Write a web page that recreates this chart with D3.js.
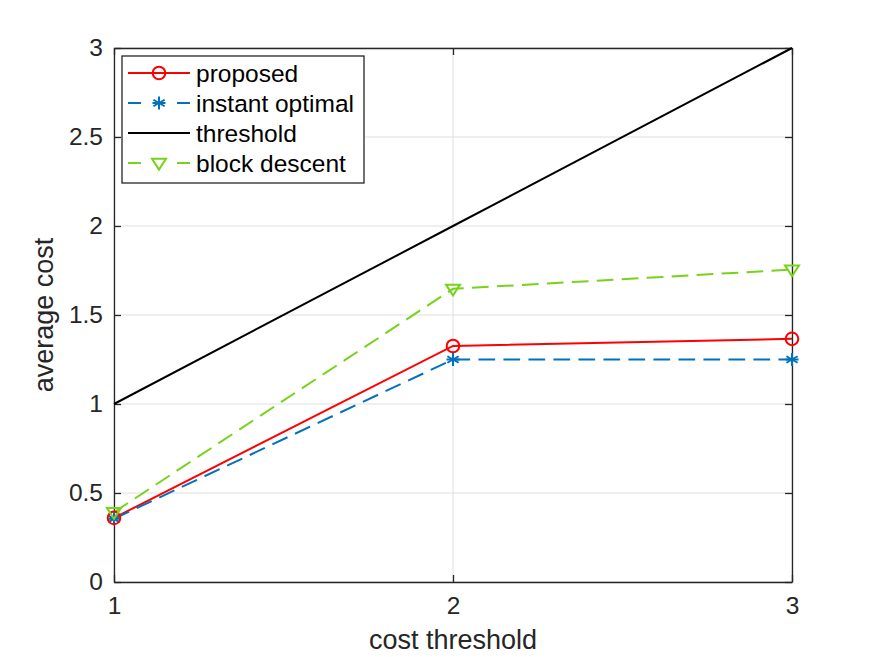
<!DOCTYPE html>
<html><head><meta charset="utf-8">
<script src="https://cdn.jsdelivr.net/npm/d3@7"></script>
<style>body{margin:0;background:#fff;} svg{display:block;font-family:"Liberation Sans",Arial,sans-serif;}</style>
</head><body>
<script>
const xValues = [1, 2, 3];
const proposed = [0.36, 1.326, 1.366];
const instantOptimal = [0.355, 1.25, 1.25];
const threshold = [1, 2, 3];
const blockDescent = [0.392, 1.647, 1.755];
const xTicks = [1, 2, 3];
const yTicks = [0, 0.5, 1, 1.5, 2, 2.5, 3];
const seriesNames = ["proposed", "instant optimal", "threshold", "block descent"];

const W = 876, H = 657;
const m = {left: 114, right: 84, top: 48, bottom: 75};
const svg = d3.select("body").append("svg").attr("width", W).attr("height", H);
const x = d3.scaleLinear().domain([1, 3]).range([m.left, W - m.right]);
const y = d3.scaleLinear().domain([0, 3]).range([H - m.bottom, m.top]);

// grid
const g = svg.append("g");
g.selectAll(".gx").data(xTicks).enter().append("line")
  .attr("x1", d => x(d)).attr("x2", d => x(d)).attr("y1", y(0)).attr("y2", y(3))
  .attr("stroke", "#dfdfdf").attr("stroke-width", 1);
g.selectAll(".gy").data(yTicks).enter().append("line")
  .attr("x1", x(1)).attr("x2", x(3)).attr("y1", d => y(d)).attr("y2", d => y(d))
  .attr("stroke", "#dfdfdf").attr("stroke-width", 1);

// axes
const fmt = d => String(d);
const xAxis = d3.axisBottom(x).tickValues(xTicks).tickFormat(fmt).tickSizeInner(-7).tickSizeOuter(0).tickPadding(15);
const yAxis = d3.axisLeft(y).tickValues(yTicks).tickFormat(fmt).tickSizeInner(-7).tickSizeOuter(0).tickPadding(11);
const xa = svg.append("g").attr("transform", `translate(0,${y(0)})`).call(xAxis);
const ya = svg.append("g").attr("transform", `translate(${x(1)},0)`).call(yAxis);
const xTop = svg.append("g").attr("transform", `translate(0,${y(3)})`).call(d3.axisTop(x).tickValues(xTicks).tickFormat("").tickSizeInner(-7).tickSizeOuter(0));
const yRight = svg.append("g").attr("transform", `translate(${x(3)},0)`).call(d3.axisRight(y).tickValues(yTicks).tickFormat("").tickSizeInner(-7).tickSizeOuter(0));
[xa, ya, xTop, yRight].forEach(a => {
  a.selectAll("path").attr("stroke", "#262626").attr("stroke-width", 1.3);
  a.selectAll("line").attr("stroke", "#262626").attr("stroke-width", 1.3);
  a.selectAll("text").attr("fill", "#262626").style("font-size", "24.5px").style("font-family", "Liberation Sans, Arial, sans-serif");
});

// labels
svg.append("text").attr("x", x(2)).attr("y", 649).attr("text-anchor", "middle")
  .style("font-size", "27px").attr("fill", "#262626").text("cost threshold");
svg.append("text").attr("transform", `translate(53,${(y(0)+y(3))/2}) rotate(-90)`).attr("text-anchor", "middle")
  .style("font-size", "27px").attr("fill", "#262626").text("average cost");

const series = [
  {name: seriesNames[0], vals: proposed, color: "#ff0000", dash: null, marker: "circle"},
  {name: seriesNames[1], vals: instantOptimal, color: "#0072bd", dash: "16.7,8.3", marker: "asterisk"},
  {name: seriesNames[2], vals: threshold, color: "#000000", dash: null, marker: null},
  {name: seriesNames[3], vals: blockDescent, color: "#77d21a", dash: "16.7,8.3", marker: "triangle"}
];

function drawMarker(sel, type, color, cx, cy) {
  if (type === "circle") {
    sel.append("circle").attr("cx", cx).attr("cy", cy).attr("r", 6.3)
      .attr("fill", "none").attr("stroke", color).attr("stroke-width", 2);
  } else if (type === "asterisk") {
    const r = 6.5;
    const gg = sel.append("g").attr("stroke", color).attr("stroke-width", 2);
    [0, 60, 120].forEach(a => {
      const rad = a * Math.PI / 180;
      gg.append("line").attr("x1", cx - r * Math.sin(rad)).attr("y1", cy - r * Math.cos(rad))
        .attr("x2", cx + r * Math.sin(rad)).attr("y2", cy + r * Math.cos(rad));
    });
    gg.append("line").attr("x1", cx - r).attr("x2", cx + r).attr("y1", cy).attr("y2", cy);
  } else if (type === "triangle") {
    const s = 7;
    sel.append("path").attr("d", `M${cx - s},${cy - s * 0.6}L${cx + s},${cy - s * 0.6}L${cx},${cy + s * 0.95}Z`)
      .attr("fill", "none").attr("stroke", color).attr("stroke-width", 2);
  }
}

const line = d3.line().x((d, i) => x(xValues[i])).y(d => y(d));
series.forEach(s => {
  svg.append("path").datum(s.vals).attr("d", line).attr("fill", "none")
    .attr("stroke", s.color).attr("stroke-width", 2).attr("stroke-dasharray", s.dash);
});
[1, 0, 3].forEach(k => {
  const s = series[k];
  s.vals.forEach((v, i) => drawMarker(svg, s.marker, s.color, x(xValues[i]), y(v)));
});

// legend
const lg = svg.append("g");
lg.append("rect").attr("x", 122).attr("y", 56).attr("width", 242).attr("height", 127)
  .attr("fill", "#fff").attr("stroke", "#262626").attr("stroke-width", 1.3);
series.forEach((s, i) => {
  const cy = 73 + i * 30;
  const segs = s.dash ? [[128, 141], [177, 190]] : [[128, 190]];
  segs.forEach(sg => lg.append("line").attr("x1", sg[0]).attr("x2", sg[1]).attr("y1", cy).attr("y2", cy)
    .attr("stroke", s.color).attr("stroke-width", 2));
  if (s.marker) drawMarker(lg, s.marker, s.color, 159, cy);
  lg.append("text").attr("x", 196).attr("y", cy + 8.5).style("font-size", "24.5px").attr("fill", "#000").text(s.name);
});
</script>
</body></html>
